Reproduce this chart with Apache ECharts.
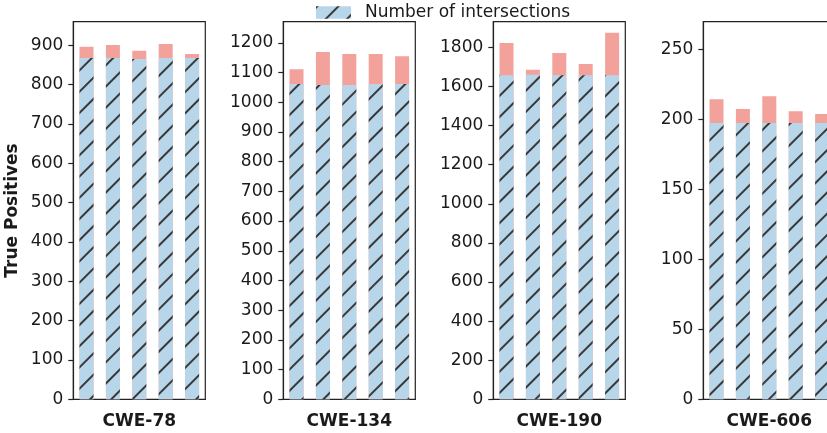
<!DOCTYPE html>
<html>
<head>
<meta charset="utf-8">
<script src="https://cdn.jsdelivr.net/npm/echarts@6/dist/echarts.min.js"></script>
<style>
html,body{margin:0;padding:0;background:#fff;}
#c{width:827px;height:433px;}
</style>
</head>
<body>
<div id="c"></div>
<script>
// ---- data ----
const panelNames = ['CWE-78', 'CWE-134', 'CWE-190', 'CWE-606'];
const barCategories = ['1', '2', '3', '4', '5'];

const intersections78 = [868, 868, 865, 868, 868];
const totals78 = [896, 901, 886, 903, 878];
const intersections134 = [1061, 1058, 1058, 1061, 1061];
const totals134 = [1111, 1169, 1162, 1162, 1155];
const intersections190 = [1657, 1660, 1657, 1657, 1657];
const totals190 = [1822, 1685, 1771, 1715, 1875];
const intersections606 = [197.5, 197.5, 197.5, 197.5, 197.5];
const totals606 = [214.5, 207.5, 216.7, 206, 204];

const yMax = [960, 1271, 1931, 270];
const ticks78 = [0, 100, 200, 300, 400, 500, 600, 700, 800, 900];
const ticks134 = [0, 100, 200, 300, 400, 500, 600, 700, 800, 900, 1000, 1100, 1200];
const ticks190 = [0, 200, 400, 600, 800, 1000, 1200, 1400, 1600, 1800];
const ticks606 = [0, 50, 100, 150, 200, 250];

const intersections = [intersections78, intersections134, intersections190, intersections606];
const totals = [totals78, totals134, totals190, totals606];
const ticks = [ticks78, ticks134, ticks190, ticks606];

const legendName = 'Number of intersections';
const totalName = 'True positives';
const yName = 'True Positives';

// ---- style ----
const FONT = 'DejaVu Sans';
const TXT = '#1a1a1a';
const FRAME = '#222222';
const BLUE = '#b8d6ea';
const RED = '#f2a29b';
const gridLefts = [73.3, 283.3, 493.3, 703.3];
const gridW = 132;
const gridTop = 21.7;
const gridH = 377.6;

const hatch = {
  symbol: 'rect',
  symbolSize: 1,
  symbolKeepAspect: false,
  dashArrayX: [1, 0],
  dashArrayY: [1.3, 12.8],
  rotation: -Math.PI / 4,
  color: '#383838'
};

const grids = [], xAxes = [], yAxes = [], series = [];
for (let i = 0; i < 4; i++) {
  grids.push({
    left: gridLefts[i], top: gridTop, width: gridW, height: gridH,
    show: true, borderColor: FRAME, borderWidth: 1.2, backgroundColor: 'transparent',
    containLabel: false, outerBoundsMode: 'none'
  });
  xAxes.push({
    type: 'category', gridIndex: i, data: barCategories,
    axisLine: { show: true, lineStyle: { color: FRAME, width: 1.2 } },
    axisTick: { show: false },
    axisLabel: { show: false },
    splitLine: { show: false },
    name: panelNames[i], nameLocation: 'middle', nameGap: 14,
    nameTextStyle: { fontFamily: FONT, fontSize: 17, fontWeight: 'bold', color: TXT, verticalAlign: 'top' }
  });
  yAxes.push({
    type: 'value', gridIndex: i, min: 0, max: yMax[i],
    axisLine: { show: true, lineStyle: { color: FRAME, width: 1.2 } },
    axisTick: { show: true, length: 5, lineStyle: { color: FRAME, width: 1.2 }, customValues: ticks[i] },
    axisLabel: { show: true, margin: 10, fontFamily: FONT, fontSize: 17, color: TXT, customValues: ticks[i],
                 formatter: function (v) { return String(v); } },
    splitLine: { show: false },
    name: i === 0 ? yName : '', nameLocation: 'middle', nameGap: 52,
    nameTextStyle: { fontFamily: FONT, fontSize: 17, fontWeight: 'bold', color: TXT }
  });
  series.push({
    type: 'bar', name: totalName, xAxisIndex: i, yAxisIndex: i,
    data: totals[i], barWidth: 14, barGap: '-100%',
    itemStyle: { color: RED }, silent: true
  });
  series.push({
    type: 'bar', name: legendName, xAxisIndex: i, yAxisIndex: i,
    data: intersections[i], barWidth: 14, barGap: '-100%',
    itemStyle: { color: BLUE, decal: hatch }, silent: true
  });
}

const chart = echarts.init(document.getElementById('c'), null, { renderer: 'canvas' });
chart.setOption({
  animation: false,
  backgroundColor: '#ffffff',
  aria: { enabled: false },
  legend: {
    data: [legendName], left: 316, top: 4, padding: 0,
    icon: 'rect', itemWidth: 35, itemHeight: 12.7,
    textStyle: { fontFamily: FONT, fontSize: 17, color: TXT, padding: [0, 0, 0, 9] },
    selectedMode: false
  },
  grid: grids, xAxis: xAxes, yAxis: yAxes, series: series
});
</script>
</body>
</html>
